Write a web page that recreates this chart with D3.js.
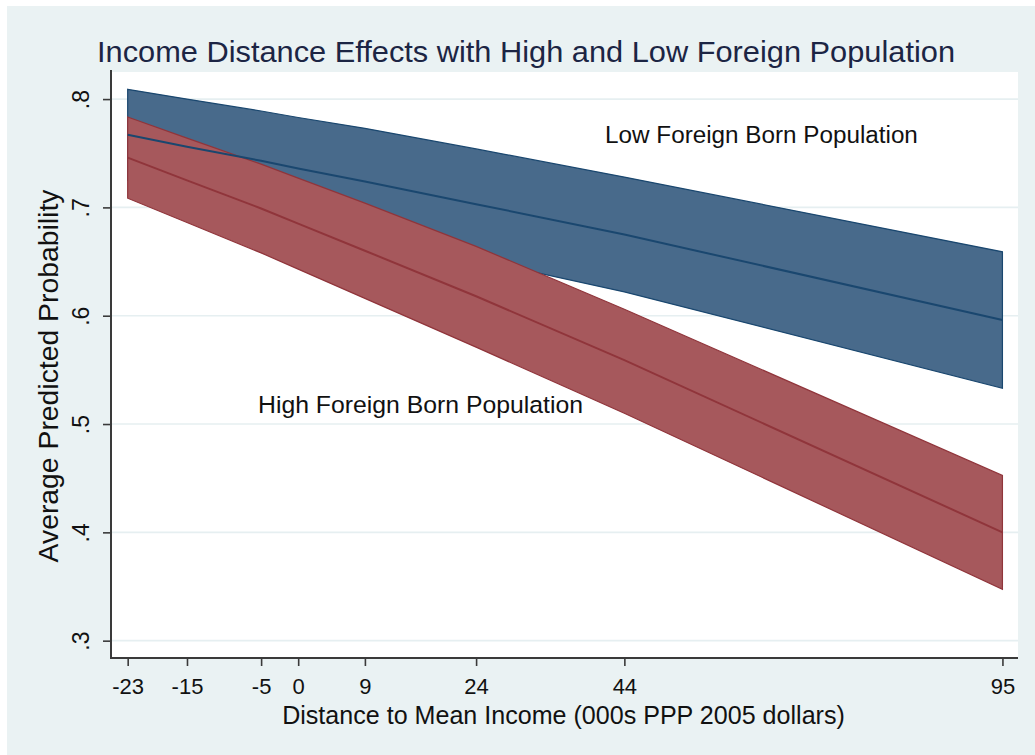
<!DOCTYPE html>
<html>
<head>
<meta charset="utf-8">
<script src="https://cdn.jsdelivr.net/npm/d3@7"></script>
<style>
  html, body { margin: 0; padding: 0; background: #ffffff; }
  svg { display: block; }
  text { font-family: "Liberation Sans", Arial, Helvetica, sans-serif; }
</style>
</head>
<body>
<svg id="chart" width="1035" height="755"></svg>
<script>
// Average predicted probability by distance to mean income (000s PPP 2005 dollars)
const incomeDistance = [-23, -15, -5, 0, 9, 24, 44, 95];

// Low foreign born population: estimate and 95% interval
const lowMean  = [0.767, 0.756, 0.743, 0.736, 0.724, 0.703, 0.675, 0.596];
const lowUpper = [0.809, 0.800, 0.789, 0.783, 0.773, 0.754, 0.728, 0.659];
const lowLower = [0.725, 0.712, 0.697, 0.689, 0.675, 0.652, 0.622, 0.533];

// High foreign born population: estimate and 95% interval
const highMean  = [0.746, 0.725, 0.699, 0.685, 0.660, 0.618, 0.559, 0.400];
const highUpper = [0.7835, 0.764, 0.740, 0.727, 0.704, 0.664, 0.606, 0.4525];
const highLower = [0.7085, 0.686, 0.658, 0.643, 0.616, 0.571, 0.510, 0.3475];

const yTicks = [0.3, 0.4, 0.5, 0.6, 0.7, 0.8];
const xTicks = [-23, -15, -5, 0, 9, 24, 44, 95];

const titleText = "Income Distance Effects with High and Low Foreign Population";
const xTitle = "Distance to Mean Income (000s PPP 2005 dollars)";
const yTitle = "Average Predicted Probability";

// Text annotations placed in data coordinates (centre of label)
const annotations = [
  { label: "Low Foreign Born Population",  x: 62.5, y: 0.767, width: 313 },
  { label: "High Foreign Born Population", x: 16.5, y: 0.518, width: 325 }
];

const W = 1035, H = 755;
const plot = { left: 111, right: 1018, top: 72, bottom: 658 };

const svg = d3.select("#chart");

// Outer graph region
svg.append("rect")
  .attr("x", 7).attr("y", 6)
  .attr("width", W - 7).attr("height", H - 6)
  .attr("fill", "#eaf2f3");

// Plot region
svg.append("rect")
  .attr("x", plot.left).attr("y", plot.top)
  .attr("width", plot.right - plot.left).attr("height", plot.bottom - plot.top)
  .attr("fill", "#ffffff");

const x = d3.scaleLinear().domain([-25.25, 97.1]).range([plot.left, plot.right]);
const y = d3.scaleLinear().domain([0.284, 0.825]).range([plot.bottom, plot.top]);

// Horizontal grid lines
svg.append("g").selectAll("line").data(yTicks).join("line")
  .attr("x1", plot.left).attr("x2", plot.right)
  .attr("y1", d => y(d)).attr("y2", d => y(d))
  .attr("stroke", "#e6eff1").attr("stroke-width", 1.6);

function band(lower, upper) {
  return d3.area()
    .x((d, i) => x(incomeDistance[i]))
    .y0((d, i) => y(lower[i]))
    .y1((d, i) => y(upper[i]))(incomeDistance);
}
function meanLine(vals) {
  return d3.line()
    .x((d, i) => x(incomeDistance[i]))
    .y((d, i) => y(vals[i]))(incomeDistance);
}

const navy = "#1a476f", navyFill = "#486a8b";
const maroon = "#90353b", maroonFill = "#a6585c";

svg.append("path").attr("d", band(lowLower, lowUpper))
  .attr("fill", navyFill).attr("stroke", navy).attr("stroke-width", 1.2);
svg.append("path").attr("d", band(highLower, highUpper))
  .attr("fill", maroonFill).attr("stroke", maroon).attr("stroke-width", 1.2);
svg.append("path").attr("d", meanLine(lowMean))
  .attr("fill", "none").attr("stroke", navy).attr("stroke-width", 2);
svg.append("path").attr("d", meanLine(highMean))
  .attr("fill", "none").attr("stroke", maroon).attr("stroke-width", 2);

// Axes
const axisColor = "#3a3a3a";
const fmt = d => d3.format(".1f")(d).replace(/^0/, "");

const yAxis = svg.append("g")
  .attr("transform", `translate(${plot.left},0)`)
  .call(d3.axisLeft(y).tickValues(yTicks).tickFormat(fmt).tickSize(8).tickSizeOuter(0));
yAxis.select(".domain").remove();
yAxis.append("line")
  .attr("x1", 0).attr("x2", 0).attr("y1", plot.top - 2).attr("y2", plot.bottom + 1)
  .attr("stroke", axisColor).attr("stroke-width", 2);
yAxis.selectAll(".tick line").attr("stroke", axisColor).attr("stroke-width", 1.6);
yAxis.selectAll(".tick text")
  .attr("transform", "rotate(-90)")
  .attr("x", 0).attr("y", -22).attr("dy", 0)
  .attr("text-anchor", "middle")
  .attr("font-size", 23).attr("fill", "#111");

const xAxis = svg.append("g")
  .attr("transform", `translate(0,${plot.bottom})`)
  .call(d3.axisBottom(x).tickValues(xTicks).tickFormat(d => String(d)).tickSize(8).tickSizeOuter(0));
xAxis.select(".domain").remove();
xAxis.append("line")
  .attr("x1", plot.left - 1).attr("x2", plot.right).attr("y1", 0).attr("y2", 0)
  .attr("stroke", axisColor).attr("stroke-width", 2);
xAxis.selectAll(".tick line").attr("stroke", axisColor).attr("stroke-width", 1.6);
xAxis.selectAll(".tick text")
  .attr("y", 36).attr("dy", 0)
  .attr("font-size", 22).attr("fill", "#111");

// Scale a text element's font so its rendered width equals w
function fitWidth(sel, w) {
  const len = sel.node().getComputedTextLength();
  const fs = parseFloat(sel.attr("font-size"));
  sel.attr("font-size", fs * w / len);
}

svg.append("text")
  .attr("x", 526).attr("y", 62)
  .attr("text-anchor", "middle")
  .attr("font-size", 30).attr("fill", "#1c2544")
  .attr("textLength", 858).attr("lengthAdjust", "spacingAndGlyphs")
  .text(titleText);

const xt = svg.append("text")
  .attr("x", 563.5).attr("y", 724)
  .attr("text-anchor", "middle")
  .attr("font-size", 22).attr("fill", "#111")
  .text(xTitle);
fitWidth(xt, 563);

const yt = svg.append("text")
  .attr("transform", "translate(58,376) rotate(-90)")
  .attr("text-anchor", "middle")
  .attr("font-size", 22).attr("fill", "#111")
  .text(yTitle);
fitWidth(yt, 373);

annotations.forEach(a => {
  const t = svg.append("text")
    .attr("x", x(a.x)).attr("y", y(a.y))
    .attr("dy", "0.35em")
    .attr("text-anchor", "middle")
    .attr("font-size", 21).attr("fill", "#111")
    .text(a.label);
  fitWidth(t, a.width);
});
</script>
</body>
</html>
